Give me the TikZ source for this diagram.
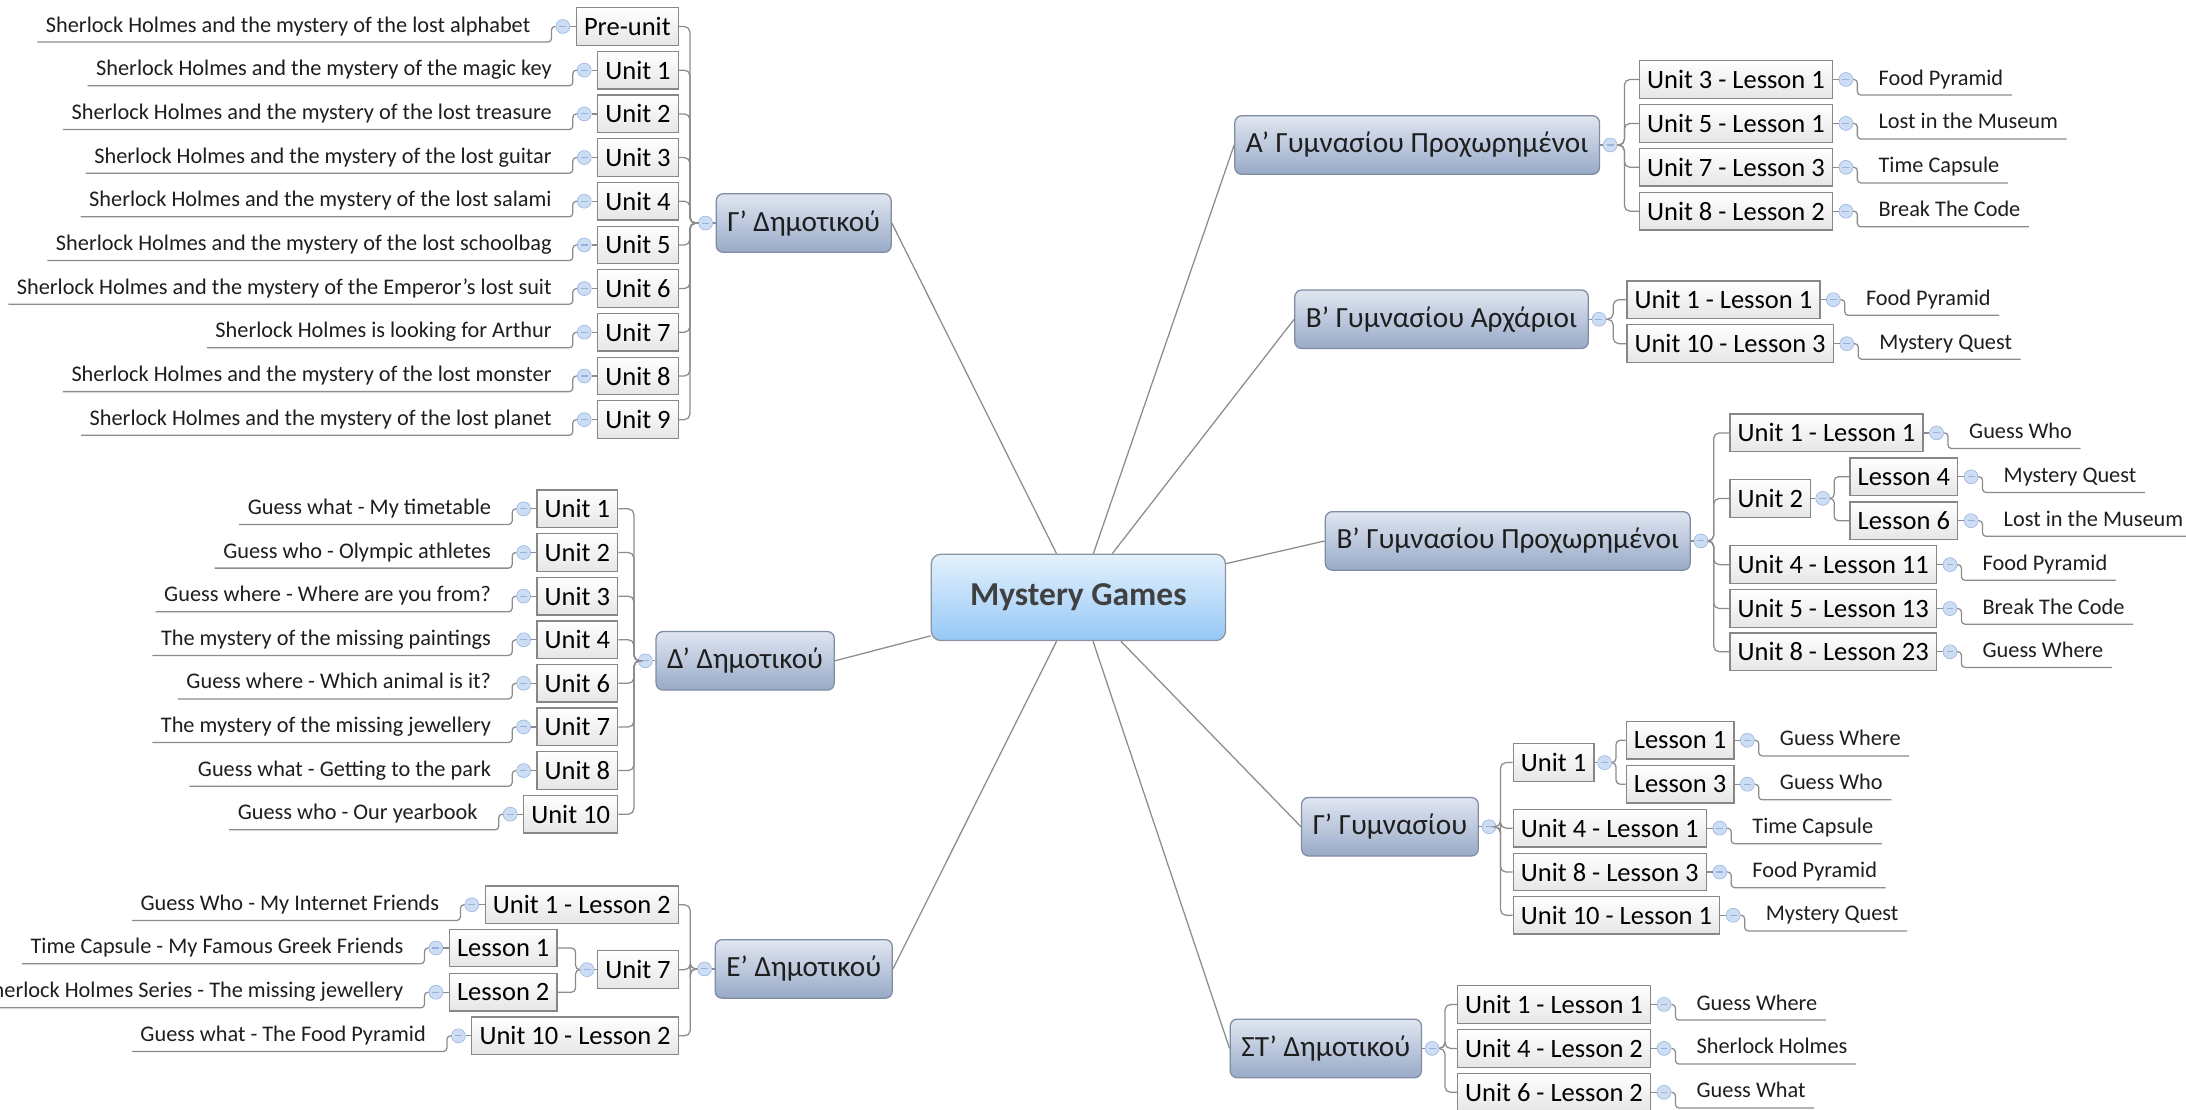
\documentclass[tikz,border=0pt]{standalone}
\usepackage{fontspec}
\setmainfont{Carlito}
\usepackage{tikz}
\usetikzlibrary{positioning}
\usepackage{color}
\definecolor{linegray}{RGB}{140, 140, 140}
\definecolor{boxedge}{RGB}{135, 135, 135}
\definecolor{boxfill}{RGB}{230, 230, 230}
\definecolor{branchtop}{RGB}{224, 230, 241}
\definecolor{branchbot}{RGB}{152, 170, 200}
\definecolor{branchedge}{RGB}{128, 140, 162}
\definecolor{roottop}{RGB}{228, 241, 253}
\definecolor{rootbot}{RGB}{150, 200, 246}
\definecolor{rootedge}{RGB}{140, 148, 160}
\definecolor{roottext}{RGB}{64, 64, 64}
\definecolor{knobfill}{RGB}{204, 221, 244}
\definecolor{knobedge}{RGB}{150, 178, 222}
\definecolor{inktext}{RGB}{30, 30, 30}

% leaf on the right / left of a unit box
\newcommand{\rleaf}[3]{%
  \node[knob, right=4pt of #1] (#2k) {};
  \draw[link] (#1) -- (#2k);
  \node[leaf, right=12pt of #2k] (#2) {#3};
  \draw[link, rounded corners=2.5pt] (#2k.east) -| ([xshift=-9pt]#2.south west) -- (#2.south east);
}
\newcommand{\lleaf}[3]{%
  \node[knob, left=4pt of #1] (#2k) {};
  \draw[link] (#1) -- (#2k);
  \node[leaf, left=12pt of #2k] (#2) {#3};
  \draw[link, rounded corners=2.5pt] (#2k.west) -| ([xshift=9pt]#2.south east) -- (#2.south west);
}

\begin{document}
\begin{tikzpicture}[x=1pt, y=-1pt,
    link/.style={draw=linegray, line width=0.9pt},
    root/.style={draw=rootedge, line width=0.9pt, rounded corners=7pt, top color=roottop, bottom color=rootbot,
                 minimum width=211pt, minimum height=62pt, font=\fontsize{24}{28}\selectfont\bfseries, text=roottext},
    branch/.style={draw=branchedge, line width=0.9pt, rounded corners=5pt, top color=branchtop, bottom color=branchbot,
                 minimum height=42pt, inner xsep=8pt, font=\fontsize{21}{25}\selectfont, text=inktext},
    unitbox/.style={draw=boxedge, line width=0.9pt, top color=white, bottom color=boxfill,
                 minimum height=27pt, inner xsep=5.5pt, inner ysep=0pt, font=\fontsize{19}{22}\selectfont, text=black},
    knob/.style={circle, draw=knobedge, fill=knobfill, minimum size=10pt, inner sep=0pt,
                 path picture={\draw[knobedge, line width=0.8pt] ([xshift=-2.5pt]path picture bounding box.center) -- ([xshift=2.5pt]path picture bounding box.center);}},
    leaf/.style={inner xsep=6pt, inner ysep=3pt, text height=12pt, text depth=4pt, font=\fontsize{16}{19}\selectfont, text=inktext}]
\fill[white] (0,0) rectangle (1568,796);
\useasboundingbox (0,0) rectangle (1568,796);

\node[root] (mg) at (773.5,428.5) {Mystery Games};

\node[branch] (gd) at (576.5,160) {Γ' Δημοτικού};
\node[branch] (dd) at (534.5,474) {Δ' Δημοτικού};
\node[branch] (ed) at (576.5,695) {Ε' Δημοτικού};
\node[branch] (ag) at (1016.5,104) {Α' Γυμνασίου Προχωρημένοι};
\node[branch] (ba) at (1034,229) {Β' Γυμνασίου Αρχάριοι};
\node[branch] (bp) at (1081.5,388) {Β' Γυμνασίου Προχωρημένοι};
\node[branch] (gg) at (997,593) {Γ' Γυμνασίου};
\node[branch] (st) at (951,752) {ΣΤ' Δημοτικού};

\draw[link] (mg) -- (gd.east);
\draw[link] (mg) -- (dd.east);
\draw[link] (mg) -- (ed.east);
\draw[link] (mg) -- (ag.west);
\draw[link] (mg) -- (ba.west);
\draw[link] (mg) -- (bp.west);
\draw[link] (mg) -- (gg.west);
\draw[link] (mg) -- (st.west);

\node[knob, left=2pt of gd] (gdk) {};
\node[knob, left=2pt of dd] (ddk) {};
\node[knob, left=2pt of ed] (edk) {};
\node[knob, right=2pt of ag] (agk) {};
\node[knob, right=2pt of ba] (bak) {};
\node[knob, right=2pt of bp] (bpk) {};
\node[knob, right=2pt of gg] (ggk) {};
\node[knob, right=2pt of st] (stk) {};
\draw[link] (gd) -- (gdk);
\draw[link] (dd) -- (ddk);
\draw[link] (ed) -- (edk);
\draw[link] (ag) -- (agk);
\draw[link] (ba) -- (bak);
\draw[link] (bp) -- (bpk);
\draw[link] (gg) -- (ggk);
\draw[link] (st) -- (stk);

% Γ' Δημοτικού
\node[unitbox, anchor=east] (gd0) at (487,19) {Pre-unit};
\node[unitbox, anchor=east] (gd1) at (487,50.3) {Unit 1};
\node[unitbox, anchor=east] (gd2) at (487,81.7) {Unit 2};
\node[unitbox, anchor=east] (gd3) at (487,113) {Unit 3};
\node[unitbox, anchor=east] (gd4) at (487,144.3) {Unit 4};
\node[unitbox, anchor=east] (gd5) at (487,175.7) {Unit 5};
\node[unitbox, anchor=east] (gd6) at (487,207) {Unit 6};
\node[unitbox, anchor=east] (gd7) at (487,238.3) {Unit 7};
\node[unitbox, anchor=east] (gd8) at (487,269.7) {Unit 8};
\node[unitbox, anchor=east] (gd9) at (487,301) {Unit 9};
\draw[link, rounded corners=4pt] (gdk.west) -- ++(-6,0) |- (gd0.east);
\draw[link, rounded corners=4pt] (gdk.west) -- ++(-6,0) |- (gd1.east);
\draw[link, rounded corners=4pt] (gdk.west) -- ++(-6,0) |- (gd2.east);
\draw[link, rounded corners=4pt] (gdk.west) -- ++(-6,0) |- (gd3.east);
\draw[link, rounded corners=4pt] (gdk.west) -- ++(-6,0) |- (gd4.east);
\draw[link, rounded corners=4pt] (gdk.west) -- ++(-6,0) |- (gd5.east);
\draw[link, rounded corners=4pt] (gdk.west) -- ++(-6,0) |- (gd6.east);
\draw[link, rounded corners=4pt] (gdk.west) -- ++(-6,0) |- (gd7.east);
\draw[link, rounded corners=4pt] (gdk.west) -- ++(-6,0) |- (gd8.east);
\draw[link, rounded corners=4pt] (gdk.west) -- ++(-6,0) |- (gd9.east);
\lleaf{gd0}{gd0t}{Sherlock Holmes and the mystery of the lost alphabet}
\lleaf{gd1}{gd1t}{Sherlock Holmes and the mystery of the magic key}
\lleaf{gd2}{gd2t}{Sherlock Holmes and the mystery of the lost treasure}
\lleaf{gd3}{gd3t}{Sherlock Holmes and the mystery of the lost guitar}
\lleaf{gd4}{gd4t}{Sherlock Holmes and the mystery of the lost salami}
\lleaf{gd5}{gd5t}{Sherlock Holmes and the mystery of the lost schoolbag}
\lleaf{gd6}{gd6t}{Sherlock Holmes and the mystery of the Emperor's lost suit}
\lleaf{gd7}{gd7t}{Sherlock Holmes is looking for Arthur}
\lleaf{gd8}{gd8t}{Sherlock Holmes and the mystery of the lost monster}
\lleaf{gd9}{gd9t}{Sherlock Holmes and the mystery of the lost planet}

% Δ' Δημοτικού
\node[unitbox, anchor=east] (dd1) at (443.5,365) {Unit 1};
\node[unitbox, anchor=east] (dd2) at (443.5,396.3) {Unit 2};
\node[unitbox, anchor=east] (dd3) at (443.5,427.6) {Unit 3};
\node[unitbox, anchor=east] (dd4) at (443.5,458.9) {Unit 4};
\node[unitbox, anchor=east] (dd5) at (443.5,490.1) {Unit 6};
\node[unitbox, anchor=east] (dd6) at (443.5,521.4) {Unit 7};
\node[unitbox, anchor=east] (dd7) at (443.5,552.7) {Unit 8};
\node[unitbox, anchor=east] (dd8) at (443.5,584) {Unit 10};
\draw[link, rounded corners=4pt] (ddk.west) -- ++(-3,0) |- (dd1.east);
\draw[link, rounded corners=4pt] (ddk.west) -- ++(-3,0) |- (dd2.east);
\draw[link, rounded corners=4pt] (ddk.west) -- ++(-3,0) |- (dd3.east);
\draw[link, rounded corners=4pt] (ddk.west) -- ++(-3,0) |- (dd4.east);
\draw[link, rounded corners=4pt] (ddk.west) -- ++(-3,0) |- (dd5.east);
\draw[link, rounded corners=4pt] (ddk.west) -- ++(-3,0) |- (dd6.east);
\draw[link, rounded corners=4pt] (ddk.west) -- ++(-3,0) |- (dd7.east);
\draw[link, rounded corners=4pt] (ddk.west) -- ++(-3,0) |- (dd8.east);
\lleaf{dd1}{dd1t}{Guess what - My timetable}
\lleaf{dd2}{dd2t}{Guess who - Olympic athletes}
\lleaf{dd3}{dd3t}{Guess where - Where are you from?}
\lleaf{dd4}{dd4t}{The mystery of the missing paintings}
\lleaf{dd5}{dd5t}{Guess where - Which animal is it?}
\lleaf{dd6}{dd6t}{The mystery of the missing jewellery}
\lleaf{dd7}{dd7t}{Guess what - Getting to the park}
\lleaf{dd8}{dd8t}{Guess who - Our yearbook}

% Ε' Δημοτικού
\node[unitbox, anchor=east] (ed1) at (487,649) {Unit 1 - Lesson 2};
\node[unitbox, anchor=east] (ed2) at (487,695.5) {Unit 7};
\node[unitbox, anchor=east] (ed3) at (487,743) {Unit 10 - Lesson 2};
\draw[link, rounded corners=4pt] (edk.west) -- ++(-5,0) |- (ed1.east);
\draw[link, rounded corners=4pt] (edk.west) -- ++(-5,0) |- (ed2.east);
\draw[link, rounded corners=4pt] (edk.west) -- ++(-5,0) |- (ed3.east);
\node[knob, left=2pt of ed2] (ed2k) {};
\draw[link] (ed2) -- (ed2k);
\node[unitbox, anchor=east] (ed21) at (400,680) {Lesson 1};
\node[unitbox, anchor=east] (ed22) at (400,711.7) {Lesson 2};
\draw[link, rounded corners=3pt] (ed2k.west) -- ++(-3,0) |- (ed21.east);
\draw[link, rounded corners=3pt] (ed2k.west) -- ++(-3,0) |- (ed22.east);
\lleaf{ed1}{ed1t}{Guess Who - My Internet Friends}
\lleaf{ed21}{ed21t}{Time Capsule - My Famous Greek Friends}
\lleaf{ed22}{ed22t}{Sherlock Holmes Series - The missing jewellery}
\lleaf{ed3}{ed3t}{Guess what - The Food Pyramid}

% Α' Γυμνασίου Προχωρημένοι
\node[unitbox, anchor=west] (ag1) at (1175.5,57) {Unit 3 - Lesson 1};
\node[unitbox, anchor=west] (ag2) at (1175.5,88.5) {Unit 5 - Lesson 1};
\node[unitbox, anchor=west] (ag3) at (1175.5,120) {Unit 7 - Lesson 3};
\node[unitbox, anchor=west] (ag4) at (1175.5,151.5) {Unit 8 - Lesson 2};
\draw[link, rounded corners=4pt] (agk.east) -- ++(5,0) |- (ag1.west);
\draw[link, rounded corners=4pt] (agk.east) -- ++(5,0) |- (ag2.west);
\draw[link, rounded corners=4pt] (agk.east) -- ++(5,0) |- (ag3.west);
\draw[link, rounded corners=4pt] (agk.east) -- ++(5,0) |- (ag4.west);
\rleaf{ag1}{ag1t}{Food Pyramid}
\rleaf{ag2}{ag2t}{Lost in the Museum}
\rleaf{ag3}{ag3t}{Time Capsule}
\rleaf{ag4}{ag4t}{Break The Code}

% Β' Γυμνασίου Αρχάριοι
\node[unitbox, anchor=west] (ba1) at (1166.5,215) {Unit 1 - Lesson 1};
\node[unitbox, anchor=west] (ba2) at (1166.5,246.5) {Unit 10 - Lesson 3};
\draw[link, rounded corners=4pt] (bak.east) -- ++(5,0) |- (ba1.west);
\draw[link, rounded corners=4pt] (bak.east) -- ++(5,0) |- (ba2.west);
\rleaf{ba1}{ba1t}{Food Pyramid}
\rleaf{ba2}{ba2t}{Mystery Quest}

% Β' Γυμνασίου Προχωρημένοι
\node[unitbox, anchor=west] (bp1) at (1240.5,310.5) {Unit 1 - Lesson 1};
\node[unitbox, anchor=west] (bp2) at (1240.5,357.5) {Unit 2};
\node[unitbox, anchor=west] (bp3) at (1240.5,405) {Unit 4 - Lesson 11};
\node[unitbox, anchor=west] (bp4) at (1240.5,436.5) {Unit 5 - Lesson 13};
\node[unitbox, anchor=west] (bp5) at (1240.5,467.5) {Unit 8 - Lesson 23};
\draw[link, rounded corners=4pt] (bpk.east) -- ++(4,0) |- (bp1.west);
\draw[link, rounded corners=4pt] (bpk.east) -- ++(4,0) |- (bp2.west);
\draw[link, rounded corners=4pt] (bpk.east) -- ++(4,0) |- (bp3.west);
\draw[link, rounded corners=4pt] (bpk.east) -- ++(4,0) |- (bp4.west);
\draw[link, rounded corners=4pt] (bpk.east) -- ++(4,0) |- (bp5.west);
\node[knob, right=3pt of bp2] (bp2k) {};
\draw[link] (bp2) -- (bp2k);
\node[unitbox, anchor=west] (bp21) at (1326.5,342) {Lesson 4};
\node[unitbox, anchor=west] (bp22) at (1326.5,373.5) {Lesson 6};
\draw[link, rounded corners=3pt] (bp2k.east) -- ++(3,0) |- (bp21.west);
\draw[link, rounded corners=3pt] (bp2k.east) -- ++(3,0) |- (bp22.west);
\rleaf{bp1}{bp1t}{Guess Who}
\rleaf{bp21}{bp21t}{Mystery Quest}
\rleaf{bp22}{bp22t}{Lost in the Museum}
\rleaf{bp3}{bp3t}{Food Pyramid}
\rleaf{bp4}{bp4t}{Break The Code}
\rleaf{bp5}{bp5t}{Guess Where}

% Γ' Γυμνασίου
\node[unitbox, anchor=west] (gg1) at (1085,547) {Unit 1};
\node[unitbox, anchor=west] (gg2) at (1085,594) {Unit 4 - Lesson 1};
\node[unitbox, anchor=west] (gg3) at (1085,625.5) {Unit 8 - Lesson 3};
\node[unitbox, anchor=west] (gg4) at (1085,656.5) {Unit 10 - Lesson 1};
\draw[link, rounded corners=4pt] (ggk.east) -- ++(3,0) |- (gg1.west);
\draw[link, rounded corners=4pt] (ggk.east) -- ++(3,0) |- (gg2.west);
\draw[link, rounded corners=4pt] (ggk.east) -- ++(3,0) |- (gg3.west);
\draw[link, rounded corners=4pt] (ggk.east) -- ++(3,0) |- (gg4.west);
\node[knob, right=2pt of gg1] (gg1k) {};
\draw[link] (gg1) -- (gg1k);
\node[unitbox, anchor=west] (gg11) at (1166,531) {Lesson 1};
\node[unitbox, anchor=west] (gg12) at (1166,562.5) {Lesson 3};
\draw[link, rounded corners=3pt] (gg1k.east) -- ++(3,0) |- (gg11.west);
\draw[link, rounded corners=3pt] (gg1k.east) -- ++(3,0) |- (gg12.west);
\rleaf{gg11}{gg11t}{Guess Where}
\rleaf{gg12}{gg12t}{Guess Who}
\rleaf{gg2}{gg2t}{Time Capsule}
\rleaf{gg3}{gg3t}{Food Pyramid}
\rleaf{gg4}{gg4t}{Mystery Quest}

% ΣΤ' Δημοτικού
\node[unitbox, anchor=west] (st1) at (1045,720.5) {Unit 1 - Lesson 1};
\node[unitbox, anchor=west] (st2) at (1045,752) {Unit 4 - Lesson 2};
\node[unitbox, anchor=west] (st3) at (1045,783.5) {Unit 6 - Lesson 2};
\draw[link, rounded corners=4pt] (stk.east) -- ++(4,0) |- (st1.west);
\draw[link, rounded corners=4pt] (stk.east) -- ++(4,0) |- (st2.west);
\draw[link, rounded corners=4pt] (stk.east) -- ++(4,0) |- (st3.west);
\rleaf{st1}{st1t}{Guess Where}
\rleaf{st2}{st2t}{Sherlock Holmes}
\rleaf{st3}{st3t}{Guess What}
\end{tikzpicture}
\end{document}
